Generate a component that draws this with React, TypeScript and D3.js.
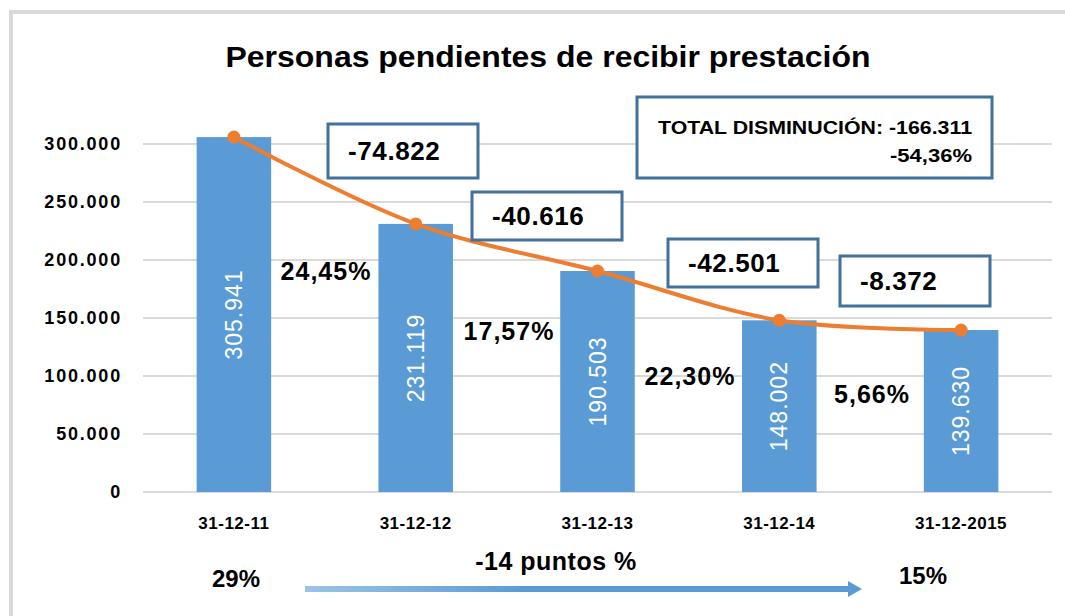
import React from "react";
import * as d3 from "d3";

const categories = ["31-12-11", "31-12-12", "31-12-13", "31-12-14", "31-12-2015"];
const values = [305941, 231119, 190503, 148002, 139630];
const valueLabels = ["305.941", "231.119", "190.503", "148.002", "139.630"];
const diffLabels = ["-74.822", "-40.616", "-42.501", "-8.372"];
const pctLabels = ["24,45%", "17,57%", "22,30%", "5,66%"];
const yTicks = [0, 50000, 100000, 150000, 200000, 250000, 300000];
const yTickLabels = ["0", "50.000", "100.000", "150.000", "200.000", "250.000", "300.000"];
const title = "Personas pendientes de recibir prestación";
const totalLine1 = "TOTAL DISMINUCIÓN: -166.311";
const totalLine2 = "-54,36%";
const bottomLeft = "29%";
const bottomRight = "15%";
const bottomMid = "-14 puntos %";

// annotation layout (positions only)
const diffBoxes = [
  { x: 328, y: 124, w: 150, h: 54 },
  { x: 472, y: 192, w: 150, h: 48 },
  { x: 668, y: 239, w: 150, h: 48 },
  { x: 840, y: 256, w: 150, h: 50 },
];
const pctPos = [
  { x: 326, y: 280 },
  { x: 509, y: 340 },
  { x: 690, y: 385 },
  { x: 872, y: 403 },
];

const FONT = "'Liberation Sans', Arial, sans-serif";
const BOX = "#41719C";

export default function App() {
  const left = 143, right = 1052, top = 144, bottom = 492;
  const x = d3.scaleBand<string>().domain(categories).range([left, right]).paddingInner(0).paddingOuter(0);
  const y = d3.scaleLinear().domain([0, 300000]).range([bottom, top]);
  const barW = x.bandwidth() * 0.41;
  const cx = (c: string) => (x(c) as number) + x.bandwidth() / 2;
  const line = d3
    .line<number>()
    .x((_, i) => cx(categories[i]))
    .y((v) => y(v))
    .curve(d3.curveCatmullRom.alpha(0.5));

  return (
    <svg width={1065} height={616} style={{ display: "block", position: "absolute", left: 0, top: 0, background: "#fff" }}>
      <rect x={0} y={0} width={1065} height={616} fill="#fff" />
      <defs>
        <linearGradient id="arrowGrad" x1="0" x2="1" y1="0" y2="0">
          <stop offset="0%" stopColor="#9DC3E6" />
          <stop offset="40%" stopColor="#5B9BD5" />
          <stop offset="100%" stopColor="#5B9BD5" />
        </linearGradient>
      </defs>
      {/* frame */}
      <line x1={11} y1={12} x2={1065} y2={12} stroke="#D9D9D9" strokeWidth={4} />
      <line x1={11} y1={10} x2={11} y2={616} stroke="#D9D9D9" strokeWidth={4} />

      {/* title */}
      <text x={548} y={67} textAnchor="middle" fontFamily={FONT} fontWeight="bold" fontSize={30} textLength={645} lengthAdjust="spacingAndGlyphs" fill="#000">
        {title}
      </text>

      {/* grid */}
      {yTicks.map((t, i) => (
        <g key={t}>
          <line x1={left} x2={right} y1={y(t)} y2={y(t)} stroke="#D9D9D9" strokeWidth={2} />
          <text x={122} y={y(t) + 6} textAnchor="end" fontFamily={FONT} fontWeight="bold" fontSize={18} letterSpacing={1.8} fill="#000">
            {yTickLabels[i]}
          </text>
        </g>
      ))}

      {/* bars */}
      {values.map((v, i) => (
        <rect key={i} x={cx(categories[i]) - barW / 2} y={y(v)} width={barW} height={y(0) - y(v)} fill="#5B9BD5" />
      ))}
      {values.map((v, i) => {
        const mx = cx(categories[i]);
        const my = (y(v) + y(0)) / 2;
        return (
          <text key={i} transform={`translate(${mx + 8},${my}) rotate(-90)`} textAnchor="middle" fontFamily={FONT} fontSize={23} letterSpacing={1} fill="#fff">
            {valueLabels[i]}
          </text>
        );
      })}

      {/* line */}
      <path d={line(values) || ""} fill="none" stroke="#ED7D31" strokeWidth={4} strokeLinecap="round" />
      {values.map((v, i) => (
        <circle key={i} cx={cx(categories[i])} cy={y(v)} r={6.5} fill="#ED7D31" />
      ))}

      {/* x labels */}
      {categories.map((c) => (
        <text key={c} x={cx(c)} y={529} textAnchor="middle" fontFamily={FONT} fontWeight="bold" fontSize={17} letterSpacing={0.5} fill="#000">
          {c}
        </text>
      ))}

      {/* diff boxes */}
      {diffLabels.map((d, i) => {
        const b = diffBoxes[i];
        return (
          <g key={d}>
            <rect x={b.x} y={b.y} width={b.w} height={b.h} fill="#fff" stroke={BOX} strokeWidth={3} />
            <text x={b.x + 20} y={b.y + b.h / 2 + 9} fontFamily={FONT} fontWeight="bold" fontSize={26} letterSpacing={0.6} fill="#000">
              {d}
            </text>
          </g>
        );
      })}

      {/* pct labels */}
      {pctLabels.map((p, i) => (
        <text key={p} x={pctPos[i].x} y={pctPos[i].y} textAnchor="middle" fontFamily={FONT} fontWeight="bold" fontSize={25} letterSpacing={1} fill="#000">
          {p}
        </text>
      ))}

      {/* total box */}
      <rect x={637} y={97} width={355} height={81} fill="#fff" stroke={BOX} strokeWidth={3} />
      <text x={972} y={134} textAnchor="end" fontFamily={FONT} fontWeight="bold" fontSize={18} textLength={314} lengthAdjust="spacingAndGlyphs" fill="#000">
        {totalLine1}
      </text>
      <text x={972} y={162} textAnchor="end" fontFamily={FONT} fontWeight="bold" fontSize={18} textLength={82} lengthAdjust="spacingAndGlyphs" fill="#000">
        {totalLine2}
      </text>

      {/* bottom annotations */}
      <text x={236} y={587} textAnchor="middle" fontFamily={FONT} fontWeight="bold" fontSize={24} fill="#000">
        {bottomLeft}
      </text>
      <text x={556} y={570} textAnchor="middle" fontFamily={FONT} fontWeight="bold" fontSize={25} letterSpacing={0.5} fill="#000">
        {bottomMid}
      </text>
      <text x={923} y={584} textAnchor="middle" fontFamily={FONT} fontWeight="bold" fontSize={24} fill="#000">
        {bottomRight}
      </text>
      <rect x={305} y={586} width={545} height={6} fill="url(#arrowGrad)" />
      <polygon points="848,581 862,589 848,597" fill="#5B9BD5" />
    </svg>
  );
}
